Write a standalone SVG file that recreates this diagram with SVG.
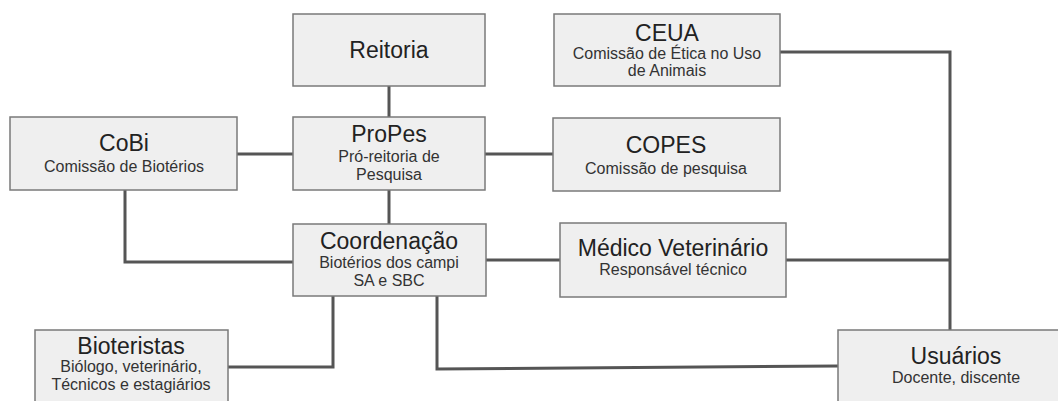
<svg xmlns="http://www.w3.org/2000/svg" width="1058" height="401" viewBox="0 0 1058 401">
<style>
.box{fill:#efefef;stroke:#7a7a7a;stroke-width:1.5}
.t{font-family:"Liberation Sans",Arial,sans-serif;font-size:23px;fill:#222;text-anchor:middle}
.s{font-family:"Liberation Sans",Arial,sans-serif;font-size:16px;fill:#333;text-anchor:middle}
.c{fill:none;stroke:#555;stroke-width:3}
</style>
<rect width="1058" height="401" fill="#fff"/>
<g id="connectors">
<path class="c" d="M389,86V117"/>
<path class="c" d="M237,154H293"/>
<path class="c" d="M485,154H553"/>
<path class="c" d="M389,190V224"/>
<path class="c" d="M125,190V262H293"/>
<path class="c" d="M486,260H560"/>
<path class="c" d="M780,52H950V330"/>
<path class="c" d="M786,260H950"/>
<path class="c" d="M333,296V367H228"/>
<path class="c" d="M437,296V369L838,366"/>
</g>
<g id="reitoria">
<rect class="box" x="293" y="14" width="192" height="72"/>
<text class="t" x="389" y="58">Reitoria</text>
</g>
<g id="propes">
<rect class="box" x="293" y="117" width="192" height="73"/>
<text class="t" x="389" y="142">ProPes</text>
<text class="s" x="389" y="162">Pró-reitoria de</text>
<text class="s" x="389" y="180">Pesquisa</text>
</g>
<g id="cobi">
<rect class="box" x="10" y="117" width="227" height="73"/>
<text class="t" x="124" y="151">CoBi</text>
<text class="s" x="124" y="172">Comissão de Biotérios</text>
</g>
<g id="copes">
<rect class="box" x="553" y="118" width="227" height="73"/>
<text class="t" x="666" y="153">COPES</text>
<text class="s" x="666" y="174">Comissão de pesquisa</text>
</g>
<g id="ceua">
<rect class="box" x="554" y="14" width="226" height="72"/>
<text class="t" x="667" y="41">CEUA</text>
<text class="s" x="667" y="59">Comissão de Ética no Uso</text>
<text class="s" x="667" y="76">de Animais</text>
</g>
<g id="coordenacao">
<rect class="box" x="293" y="224" width="193" height="72"/>
<text class="t" x="389" y="249">Coordenação</text>
<text class="s" x="389" y="268">Biotérios dos campi</text>
<text class="s" x="389" y="286">SA e SBC</text>
</g>
<g id="medico">
<rect class="box" x="560" y="223" width="226" height="74"/>
<text class="t" x="673" y="256">Médico Veterinário</text>
<text class="s" x="673" y="275">Responsável técnico</text>
</g>
<g id="bioteristas">
<rect class="box" x="35" y="330" width="193" height="80"/>
<text class="t" x="131" y="354">Bioteristas</text>
<text class="s" x="131" y="372">Biólogo, veterinário,</text>
<text class="s" x="131" y="390">Técnicos e estagiários</text>
</g>
<g id="usuarios">
<rect class="box" x="838" y="330" width="240" height="80"/>
<text class="t" x="956" y="364">Usuários</text>
<text class="s" x="956" y="383">Docente, discente</text>
</g>
</svg>
